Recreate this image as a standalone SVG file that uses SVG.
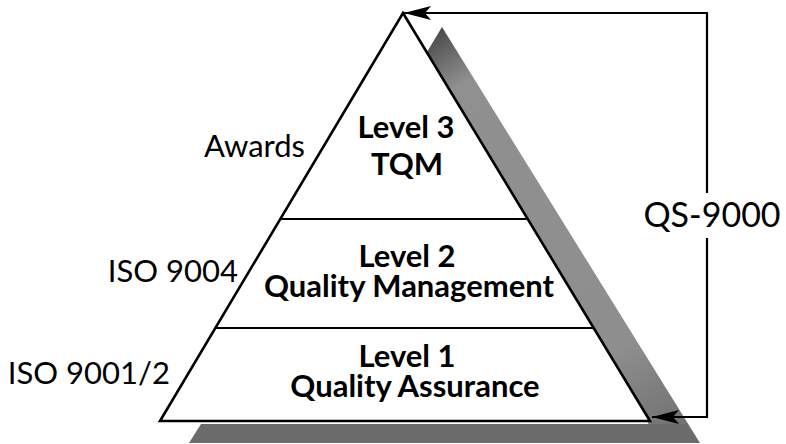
<svg xmlns="http://www.w3.org/2000/svg" width="786" height="444" viewBox="0 0 786 444">
<defs>
<style>
.edge{fill:#fff;stroke:#000;stroke-width:2.6;stroke-linejoin:miter}
.div{stroke:#000;stroke-width:2;fill:none}
.conn{stroke:#000;stroke-width:2.2;fill:none}
.lvl{font-family:Lato,"Liberation Sans",sans-serif;font-weight:bold;font-size:31px;fill:#000;text-anchor:middle}
.std{font-family:Lato,"Liberation Sans",sans-serif;font-size:31px;fill:#000;text-anchor:end}
.qs{font-family:Lato,"Liberation Sans",sans-serif;font-size:34px;fill:#000;text-anchor:middle}
</style>
<linearGradient id="bandGrad" x1="442" y1="27" x2="700" y2="443" gradientUnits="userSpaceOnUse">
<stop offset="0" stop-color="#4a4a4a"/>
<stop offset="0.12" stop-color="#909090"/>
<stop offset="0.75" stop-color="#8e8e8e"/>
<stop offset="1" stop-color="#6a6a6a"/>
</linearGradient>
<marker id="arrow" markerWidth="28" markerHeight="14" refX="27" refY="7" orient="auto" markerUnits="userSpaceOnUse">
<path d="M0,0 L27,7 L0,14 L6,7 Z" fill="#000"/>
</marker>
</defs>
<g id="shadow">
<polygon points="442,27 700,443 660,443 427,52" fill="url(#bandGrad)"/>
<polygon points="201,424 686,424 698,443 189,443" fill="#6b6b6b"/>
</g>
<g id="pyramid">
<polygon class="edge" points="403,13 650,421 160,421"/>
<line class="div" x1="280" y1="219" x2="528" y2="219"/>
<line class="div" x1="215" y1="328" x2="594" y2="328"/>
</g>
<g id="level3">
<text class="lvl" x="406" y="138">Level 3</text>
<text class="lvl" x="407" y="175">TQM</text>
</g>
<g id="level2">
<text class="lvl" x="407" y="267">Level 2</text>
<text class="lvl" x="409" y="297">Quality Management</text>
</g>
<g id="level1">
<text class="lvl" x="407" y="367">Level 1</text>
<text class="lvl" x="415" y="397">Quality Assurance</text>
</g>
<g id="labels">
<text class="std" x="305" y="157">Awards</text>
<text class="std" x="238" y="282">ISO 9004</text>
<text class="std" x="170" y="384">ISO 9001/2</text>
</g>
<g id="connectors">
<polyline class="conn" points="707,193 707,13 404,13" marker-end="url(#arrow)"/>
<polyline class="conn" points="707,238 707,417 652,417" marker-end="url(#arrow)"/>
<text class="qs" x="712" y="227">QS-9000</text>
</g>
</svg>
